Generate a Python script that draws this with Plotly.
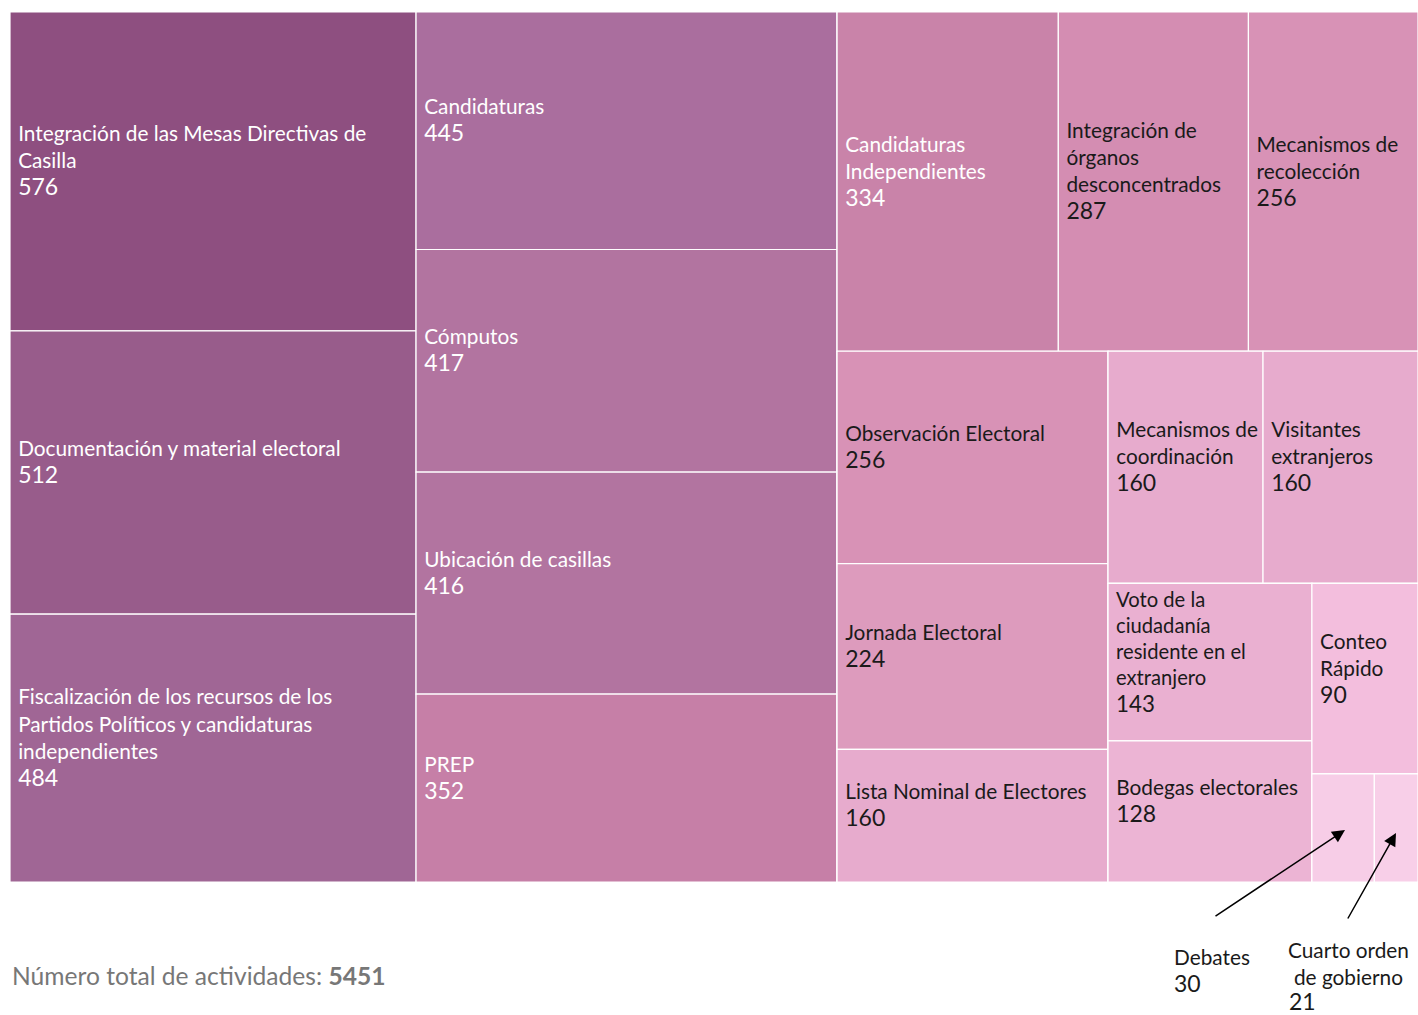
import plotly.graph_objects as go

categories = [
    "Integración de las Mesas Directivas de Casilla",
    "Documentación y material electoral",
    "Fiscalización de los recursos de los Partidos Políticos y candidaturas independientes",
    "Candidaturas",
    "Cómputos",
    "Ubicación de casillas",
    "PREP",
    "Candidaturas Independientes",
    "Integración de órganos desconcentrados",
    "Mecanismos de recolección",
    "Observación Electoral",
    "Jornada Electoral",
    "Lista Nominal de Electores",
    "Mecanismos de coordinación",
    "Visitantes extranjeros",
    "Voto de la ciudadanía residente en el extranjero",
    "Bodegas electorales",
    "Conteo Rápido",
    "Debates",
    "Cuarto orden de gobierno",
]
values = [576, 512, 484, 445, 417, 416, 352, 334, 287, 256, 256, 224,
          160, 160, 160, 143, 128, 90, 30, 21]
display_labels = [
    "Integración de las Mesas Directivas de<br>Casilla",
    "Documentación y material electoral",
    "Fiscalización de los recursos de los<br>Partidos Políticos y candidaturas<br>independientes",
    "Candidaturas",
    "Cómputos",
    "Ubicación de casillas",
    "PREP",
    "Candidaturas<br>Independientes",
    "Integración de<br>órganos<br>desconcentrados",
    "Mecanismos de<br>recolección",
    "Observación Electoral",
    "Jornada Electoral",
    "Lista Nominal de Electores",
    "Mecanismos de<br>coordinación",
    "Visitantes<br>extranjeros",
    "Voto de la<br>ciudadanía<br>residente en el<br>extranjero",
    "Bodegas electorales",
    "Conteo<br>Rápido",
    "",
    "",
]

# Layout grouping (invisible nesting that reproduces the slice/dice arrangement)
group_ids = ["root", "col1", "col2", "rest1", "row1", "rest2", "col3",
             "rest3", "row2", "rest4", "col4", "rest5", "row3"]
group_parents = ["", "root", "root", "root", "rest1", "rest1", "rest2",
                 "rest2", "rest3", "rest3", "rest4", "rest4", "rest5"]
leaf_groups = ["col1", "col1", "col1",
               "col2", "col2", "col2", "col2",
               "row1", "row1", "row1",
               "col3", "col3", "col3",
               "row2", "row2",
               "col4", "col4",
               "rest5",
               "row3", "row3"]

total = sum(values)
FONT = "Lato"
BASE = 20.8
VALUE_SIZE = 23
INDENT = "<span style='font-size:20px'>&nbsp;</span>"

colorscale = [
    [0.000, "#f8cfe8"],
    [0.124, "#f3bedd"],
    [0.250, "#e7abcd"],
    [0.368, "#dd9bbd"],
    [0.423, "#d892b6"],
    [0.479, "#d48db2"],
    [0.564, "#c983a9"],
    [0.596, "#c67fa7"],
    [0.712, "#b274a0"],
    [0.764, "#aa6e9e"],
    [0.834, "#a06695"],
    [0.885, "#985c8b"],
    [1.000, "#8e4f80"],
]


def leaf_template(label):
    if not label:
        return ""
    lines = [INDENT + ln for ln in label.split("<br>")]
    lines.append(INDENT + f"<span style='font-size:{VALUE_SIZE}px'>%{{value}}</span>")
    lines.append("<span style='font-size:1px'>&nbsp;</span>")
    return "<br>".join(lines)


# leaves first, then the invisible grouping nodes (keeps child order)
ids = [f"leaf{i}" for i in range(len(categories))] + group_ids
labels = categories + group_ids
parents = leaf_groups + group_parents
node_values = values + [0] * len(group_ids)
node_colors = values + [min(values)] * len(group_ids)
text_colors = ["#ffffff" if v >= 300 else "#1a1a1a" for v in values] + \
    ["#ffffff"] * len(group_ids)
templates = [leaf_template(t) for t in display_labels] + [""] * len(group_ids)

fig = go.Figure(go.Treemap(
    ids=ids,
    labels=labels,
    parents=parents,
    values=node_values,
    branchvalues="remainder",
    texttemplate=templates,
    textposition="middle left",
    textfont=dict(family=FONT, size=BASE, color=text_colors),
    marker=dict(
        colors=node_colors,
        colorscale=colorscale,
        cmin=min(values),
        cmax=max(values),
        line=dict(color="#ffffff", width=1.2),
        pad=dict(t=0, l=0, r=0, b=0),
    ),
    tiling=dict(packing="slice-dice", pad=0),
    pathbar=dict(visible=False),
    sort=False,
    hoverinfo="label+value",
))

annotations = [
    dict(x=0, y=(882 - 975) / 870, xref="paper", yref="paper",
         xanchor="left", yanchor="middle",
         text=f"Número total de actividades: <b>{total}</b>", showarrow=False,
         font=dict(family=FONT, size=24.6, color="#777777")),
    dict(x=(1172 - 10) / 1408, y=(882 - 942) / 870, xref="paper", yref="paper",
         xanchor="left", yanchor="top", align="left",
         text=f"Debates<br><span style='font-size:{VALUE_SIZE}px'>{values[18]}</span>",
         showarrow=False, font=dict(family=FONT, size=BASE, color="#1a1a1a")),
    dict(x=(1348 - 10) / 1408, y=(882 - 935) / 870, xref="paper", yref="paper",
         xanchor="center", yanchor="top", align="center",
         text="Cuarto orden<br>de gobierno",
         showarrow=False, font=dict(family=FONT, size=BASE, color="#1a1a1a")),
    dict(x=(1287 - 10) / 1408, y=(882 - 1001) / 870, xref="paper", yref="paper",
         xanchor="left", yanchor="middle", align="left",
         text=f"<span style='font-size:{VALUE_SIZE}px'>{values[19]}</span>",
         showarrow=False, font=dict(family=FONT, size=BASE, color="#1a1a1a")),
    dict(x=(1345 - 10) / 1408, y=(882 - 830) / 870, xref="paper", yref="paper",
         text="", showarrow=True, arrowhead=2, arrowsize=1.7, arrowwidth=1.5,
         arrowcolor="#000000", ax=-131, ay=87, axref="pixel", ayref="pixel", standoff=0),
    dict(x=(1396 - 10) / 1408, y=(882 - 833) / 870, xref="paper", yref="paper",
         text="", showarrow=True, arrowhead=2, arrowsize=1.7, arrowwidth=1.5,
         arrowcolor="#000000", ax=-49, ay=87, axref="pixel", ayref="pixel", standoff=0),
]

fig.update_layout(
    width=1418, height=1015,
    margin=dict(l=10, r=0, t=12, b=133),
    paper_bgcolor="#ffffff",
    font=dict(family=FONT),
    annotations=annotations,
)

fig.write_html(
    "out.html",
    config={"displayModeBar": False},
    post_script="document.body.style.margin='0';document.body.style.overflow='hidden';",
)
